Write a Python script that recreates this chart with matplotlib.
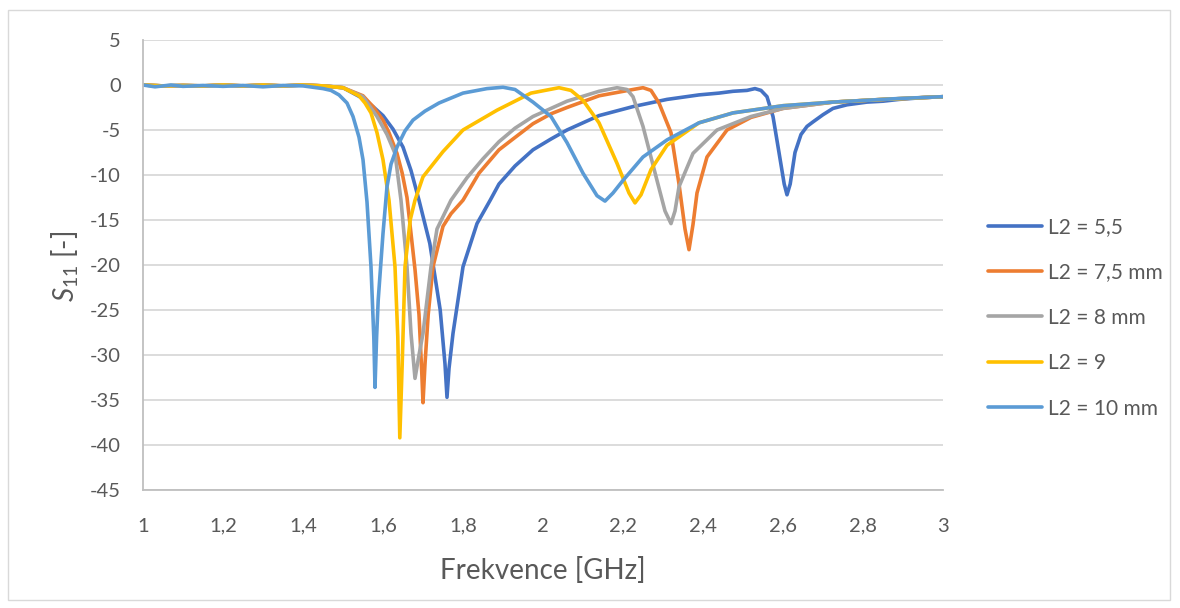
import matplotlib.pyplot as plt
from matplotlib.patches import Rectangle

plt.rcParams['font.family'] = ['Lato', 'DejaVu Sans']
plt.rcParams['mathtext.fontset'] = 'custom'
plt.rcParams['mathtext.it'] = 'Lato:italic'
plt.rcParams['mathtext.rm'] = 'Lato'
plt.rcParams['axes.unicode_minus'] = False

# baseline shared by the four first curves (1.0 - 1.45 GHz)
base_f = [1.0, 1.05, 1.1, 1.15, 1.2, 1.25, 1.3, 1.35, 1.4, 1.45]
base_s = [0, -0.1, -0.05, -0.1, 0, -0.1, 0, -0.1, 0, -0.1]

# L2 = 5,5
f_55 = base_f + [1.5, 1.55, 1.575, 1.6, 1.625, 1.65, 1.67, 1.69, 1.717, 1.743, 1.755, 1.76,
                 1.765, 1.775, 1.8, 1.835, 1.868, 1.89, 1.93, 1.975, 2.02, 2.06, 2.14, 2.225,
                 2.31, 2.39, 2.44, 2.475, 2.51, 2.53, 2.545, 2.56, 2.575, 2.59, 2.603, 2.61,
                 2.618, 2.63, 2.645, 2.66, 2.675, 2.7, 2.725, 2.76, 2.81, 2.85, 2.89, 2.95, 3.0]
s_55 = base_s + [-0.3, -1.5, -2.4, -3.4, -4.9, -6.9, -9.5, -12.8, -17.6, -25, -31, -34.7,
                 -31.5, -27.6, -20.2, -15.4, -12.8, -11, -9, -7.2, -6, -5.0, -3.4, -2.4,
                 -1.6, -1.1, -0.9, -0.7, -0.6, -0.4, -0.6, -1.3, -3.5, -7.5, -11, -12.2,
                 -11, -7.5, -5.5, -4.6, -4.1, -3.3, -2.6, -2.2, -1.9, -1.8, -1.6, -1.4, -1.3]

# L2 = 7,5 mm
f_75 = base_f + [1.5, 1.55, 1.575, 1.6, 1.615, 1.635, 1.648, 1.66, 1.67, 1.68, 1.69, 1.697,
                 1.70, 1.705, 1.713, 1.725, 1.75, 1.77, 1.8, 1.84, 1.89, 1.925, 1.975, 2.02,
                 2.06, 2.14, 2.225, 2.25, 2.27, 2.29, 2.32, 2.34, 2.355, 2.365, 2.375, 2.385,
                 2.41, 2.46, 2.52, 2.6, 2.725, 2.85, 3.0]
s_75 = base_s + [-0.3, -1.2, -2.4, -3.9, -5.3, -7.6, -9.8, -12.5, -16.5, -20.5, -25.5, -32,
                 -35.3, -31, -25.5, -20.2, -15.7, -14.3, -12.8, -9.8, -7.2, -6, -4.3, -3.2,
                 -2.5, -1.2, -0.5, -0.3, -0.6, -2.0, -5.3, -11, -16, -18.3, -15.5, -12,
                 -8, -5, -3.6, -2.6, -1.9, -1.6, -1.3]

# L2 = 8 mm
f_8 = base_f + [1.5, 1.55, 1.585, 1.61, 1.63, 1.645, 1.66, 1.67, 1.68, 1.69, 1.70, 1.72,
                1.735, 1.77, 1.81, 1.85, 1.89, 1.93, 1.975, 2.06, 2.14, 2.185, 2.21, 2.225,
                2.25, 2.285, 2.305, 2.32, 2.33, 2.34, 2.375, 2.435, 2.52, 2.6, 2.725, 2.85, 3.0]
s_8 = base_s + [-0.3, -1.3, -3.5, -5.5, -7.6, -12.8, -20.2, -27.6, -32.6, -30, -27.6, -20.2,
                -16, -12.8, -10.3, -8.2, -6.3, -4.8, -3.5, -1.8, -0.7, -0.3, -0.5, -1.3,
                -4.6, -10.6, -14, -15.4, -14, -11.3, -7.6, -5, -3.5, -2.6, -1.9, -1.6, -1.3]

# L2 = 9
f_9 = base_f + [1.5, 1.54, 1.555, 1.57, 1.585, 1.6, 1.615, 1.63, 1.637, 1.642, 1.648, 1.655,
                1.668, 1.68, 1.70, 1.75, 1.8, 1.885, 1.97, 2.04, 2.07, 2.1, 2.14, 2.185,
                2.215, 2.23, 2.245, 2.27, 2.31, 2.39, 2.475, 2.6, 2.725, 2.85, 3.0]
s_9 = base_s + [-0.3, -1.2, -2.0, -3.1, -5.3, -8.3, -12.8, -20.2, -28, -39.2, -31, -20.2,
                -15, -12.8, -10.2, -7.4, -5, -2.8, -0.9, -0.3, -0.6, -1.7, -4.2, -8.7,
                -12, -13.1, -12.2, -9.4, -6.7, -4.2, -3.1, -2.3, -1.9, -1.6, -1.3]

# L2 = 10 mm
f_10 = [1.0, 1.03, 1.07, 1.1, 1.15, 1.2, 1.25, 1.3, 1.35, 1.4, 1.45, 1.47, 1.49, 1.51, 1.525,
        1.54, 1.55, 1.56, 1.57, 1.577, 1.58, 1.584, 1.588, 1.6, 1.61, 1.62, 1.635, 1.655,
        1.675, 1.705, 1.74, 1.8, 1.86, 1.9, 1.93, 1.975, 2.02, 2.06, 2.1, 2.135, 2.155,
        2.175, 2.2, 2.25, 2.31, 2.39, 2.475, 2.6, 2.725, 2.89, 3.0]
s_10 = [0, -0.2, 0, -0.15, -0.05, -0.15, -0.05, -0.2, -0.05, -0.1, -0.4, -0.6, -1.1, -2.0,
        -3.5, -5.8, -8.3, -13, -20.2, -28, -33.6, -28, -23.9, -16.5, -11.3, -8.8, -6.9,
        -5.1, -3.9, -2.9, -2.0, -0.9, -0.4, -0.25, -0.5, -1.9, -3.5, -6.4, -9.8, -12.3,
        -12.9, -12, -10.6, -8, -6.1, -4.2, -3.1, -2.3, -1.9, -1.5, -1.3]

labels = ['L2 = 5,5', 'L2 = 7,5 mm', 'L2 = 8 mm', 'L2 = 9', 'L2 = 10 mm']
colors = ['#4472C4', '#ED7D31', '#A5A5A5', '#FFC000', '#5B9BD5']
series = [(f_55, s_55), (f_75, s_75), (f_8, s_8), (f_9, s_9), (f_10, s_10)]

x_ticks = [1, 1.2, 1.4, 1.6, 1.8, 2, 2.2, 2.4, 2.6, 2.8, 3]
x_tick_labels = ['1', '1,2', '1,4', '1,6', '1,8', '2', '2,2', '2,4', '2,6', '2,8', '3']
y_ticks = [5, 0, -5, -10, -15, -20, -25, -30, -35, -40, -45]

fig = plt.figure(figsize=(11.8, 6.08), dpi=100)
ax = fig.add_axes([143 / 1180, 1 - 490 / 608, 800 / 1180, 450 / 608])

# outer chart border
fig.patches.append(Rectangle((8 / 1180, 1 - 600 / 608), 1162 / 1180, 590 / 608,
                             transform=fig.transFigure, fill=False,
                             edgecolor='#d9d9d9', linewidth=1))

for (f, s), lab, c in zip(series, labels, colors):
    ax.plot(f, s, color=c, linewidth=2.6, label=lab, solid_joinstyle='round',
            solid_capstyle='round')

ax.set_xlim(1, 3)
ax.set_ylim(-45, 5)
ax.set_xticks(x_ticks)
ax.set_xticklabels(x_tick_labels)
ax.set_yticks(y_ticks)
ax.tick_params(length=0, labelsize=14.5, labelcolor='#595959')
ax.tick_params(axis='x', pad=20)
ax.tick_params(axis='y', pad=16)
ax.grid(axis='y', color='#d9d9d9', linewidth=1.3)
ax.set_axisbelow(True)

for side in ['top', 'right']:
    ax.spines[side].set_visible(False)
ax.spines['left'].set_color('#bfbfbf')
ax.spines['bottom'].set_color('#bfbfbf')
ax.spines['left'].set_linewidth(1.3)
ax.spines['bottom'].set_linewidth(1.3)

ax.set_xlabel('Frekvence [GHz]', fontsize=20, color='#595959')
ax.set_ylabel(r'$\mathit{S_{11}}$ [-]', fontsize=20, color='#595959')
ax.xaxis.set_label_coords(0.5, -0.148)
ax.yaxis.set_label_coords(-0.078, 0.496)

ax.legend(loc='upper left', bbox_to_anchor=(1.056, 0.607), frameon=False,
          fontsize=15, labelcolor='#595959', handlelength=2.6, labelspacing=1.22,
          handletextpad=0.3, borderpad=0, borderaxespad=0)

fig.savefig('out.png', dpi=100)
